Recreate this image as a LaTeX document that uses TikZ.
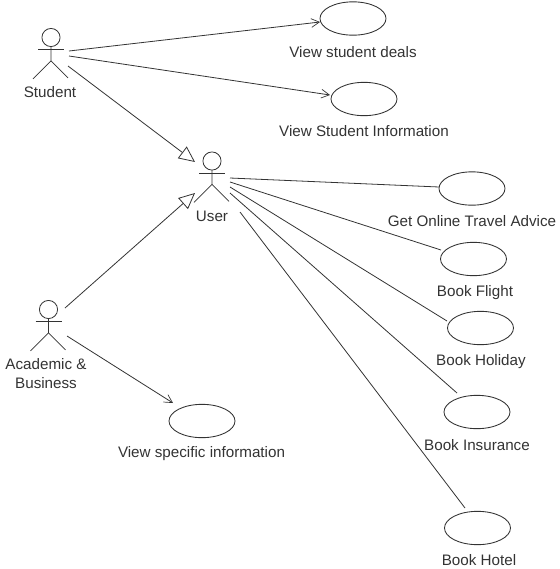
\documentclass[tikz,border=0pt]{standalone}
\usepackage{fontspec}
\setmainfont{Liberation Sans}
\usetikzlibrary{arrows.meta,shapes.geometric}
\definecolor{ink}{gray}{0.2}
\tikzset{x=0.75pt,y=-0.75pt,
 uc/.style={draw=ink,line width=0.65pt,fill=white,ellipse,inner sep=0pt,minimum width=49.5pt,minimum height=25pt},
 lbl/.style={text=ink,font=\fontsize{11.4pt}{14.2pt}\selectfont,inner sep=0pt,align=center},
 part/.style={draw=ink,line width=0.6pt},
 assoc/.style={draw=ink,line width=0.6pt},
 nav/.style={assoc,-{Straight Barb[length=6pt,width=6.5pt,line width=0.5pt]}},
 gen/.style={assoc,-{Triangle[open,length=12pt,width=11pt,fill=white,line width=0.6pt]}}}
\newcommand{\actorfig}[2]{%
 \coordinate (#1) at #2;
 \draw[part] ([yshift=9pt]#1) circle[radius=6.8pt];
 \draw[part] (#1) ++(-13,0) -- ++(26,0);
 \draw[part] ([yshift=2.2pt]#1) -- ([yshift=-8.5pt]#1) -- ++(-18,18);
 \draw[part] ([yshift=-8.5pt]#1) -- ++(17,17);}
\begin{document}
\begin{tikzpicture}
\useasboundingbox (0,0) rectangle (560,569);
\actorfig{st}{(51,49.5)}
\actorfig{us}{(212,173)}
\actorfig{ac}{(48.5,321.5)}
\node[lbl] (lst) at (50,92.5) {Student};
\node[lbl] (lus) at (212,216.5) {User};
\node[lbl] (lac) at (46,373.5) {Academic \&\\Business};
\node[uc] (u1) at (353,18.5) {};
\node[uc] (u2) at (364,99) {};
\node[uc] (u3) at (472,188.5) {};
\node[uc] (u4) at (473.5,259) {};
\node[uc] (u5) at (480.5,328) {};
\node[uc] (u6) at (477,412) {};
\node[uc] (u7) at (477.5,528) {};
\node[uc] (u8) at (202,421) {};
\node[lbl] (t1a) at (353,52.5) {View student deals};
\node[lbl] (t2a) at (364,131.5) {View Student Information};
\node[lbl] (t3a) at (472,221.5) {Get Online Travel Advice};
\node[lbl] (t4a) at (475,292.5) {Book Flight};
\node[lbl] (t5a) at (481,361.5) {Book Holiday};
\node[lbl] (t6a) at (477,445.5) {Book Insurance};
\node[lbl] (t7a) at (479,560.5) {Book Hotel};
\node[lbl] (t8a) at (201.5,453.5) {View specific information};
\coordinate (s1) at (69,51);
\coordinate (s2) at (69,56);
\coordinate (s3) at (68,66);
\coordinate (a1) at (65,308);
\coordinate (a2) at (67,336);
\coordinate (t1) at (195,162);
\coordinate (t2) at (195,193);
\coordinate (p1) at (230,178);
\coordinate (p2) at (230,182);
\coordinate (p3) at (230,187);
\coordinate (p4) at (230,193);
\coordinate (p5) at (240,212);
\coordinate (e1) at (320,22);
\coordinate (e2) at (330,95);
\coordinate (e3) at (439,187);
\coordinate (e4) at (441,250);
\coordinate (e5) at (447,321);
\coordinate (e6) at (457,393);
\coordinate (e7) at (465,508);
\coordinate (e8) at (173,403);
\draw[nav] (s1) -- (e1);
\draw[nav] (s2) -- (e2);
\draw[gen] (s3) -- (t1);
\draw[gen] (a1) -- (t2);
\draw[nav] (a2) -- (e8);
\draw[assoc] (p1) -- (e3);
\draw[assoc] (p2) -- (e4);
\draw[assoc] (p3) -- (e5);
\draw[assoc] (p4) -- (e6);
\draw[assoc] (p5) -- (e7);
\end{tikzpicture}
\end{document}
